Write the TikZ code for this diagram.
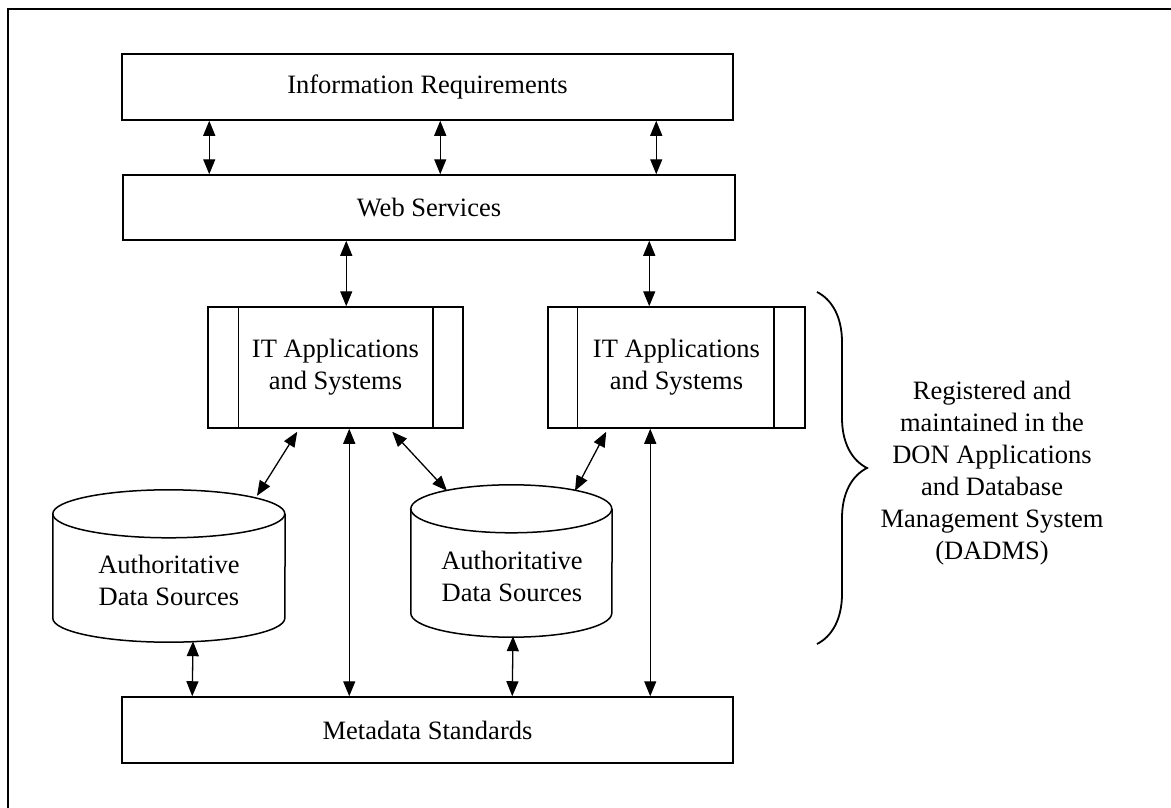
\documentclass[tikz,border=0pt]{standalone}
\usepackage{fontspec}
\setmainfont{Liberation Serif}
\usetikzlibrary{arrows.meta,decorations.pathreplacing,calc}
\begin{document}
\begin{tikzpicture}[x=1pt,y=1pt,
  box/.style={draw, line width=1.5pt, inner sep=0pt, font=\fontsize{26.5}{32}\selectfont, align=center},
  lbl/.style={inner sep=0pt, font=\fontsize{26.5}{32}\selectfont, align=center},
  body/.style={inner sep=0pt},
  link/.style={line width=1.3pt, {Triangle[length=15pt,width=12pt]}-{Triangle[length=15pt,width=12pt]}},
  frame/.style={line width=1.5pt},
  cyl/.style={line width=1.5pt},
]
\useasboundingbox (0,0) rectangle (1171,-808);
\draw[frame] (8,-808) -- (8,-9) -- (1171,-9);

% boxes
\node[box, minimum width=611, minimum height=66] (ir) at (427.5,-87) {Information Requirements};
\node[box, minimum width=612, minimum height=65] (ws) at (429,-207.5) {Web Services};
\node[box, minimum width=611, minimum height=66] (md) at (427.5,-730) {Metadata Standards};

\node[box, minimum width=255, minimum height=121] (it1) at (335.5,-367.5) {IT Applications\\and Systems};
\node[box, minimum width=257, minimum height=121] (it2) at (676.5,-367.5) {IT Applications\\and Systems};
\draw[line width=1.5pt] ($(it1.north west)+(31,0)$) -- ($(it1.south west)+(31,0)$);
\draw[line width=1.5pt] ($(it1.north east)+(-31,0)$) -- ($(it1.south east)+(-31,0)$);
\draw[line width=1.5pt] ($(it2.north west)+(30,0)$) -- ($(it2.south west)+(30,0)$);
\draw[line width=1.5pt] ($(it2.north east)+(-32,0)$) -- ($(it2.south east)+(-32,0)$);

% cylinders (body nodes span the outline)
\node[body, minimum width=232, minimum height=152] (cyl1) at (169,-566) {};
\node[body, minimum width=201, minimum height=152] (cyl2) at (511.5,-561) {};
\foreach \c/\rx in {cyl1/116, cyl2/100.5}{
  \draw[cyl] ($(\c.north west)+(0,-24)$) arc[start angle=180, delta angle=360, x radius=\rx pt, y radius=24pt];
  \draw[cyl] ($(\c.north west)+(0,-24)$) -- ($(\c.south west)+(0,24)$)
     arc[start angle=180, end angle=360, x radius=\rx pt, y radius=24pt] -- ($(\c.north east)+(0,-24)$);
}
\node[lbl] (ads1) at (169,-580) {Authoritative\\Data Sources};
\node[lbl] (ads2) at (512,-576) {Authoritative\\Data Sources};

% connectors
\draw[link] ($(ir.south west)+(88,0)$) -- ($(ws.north west)+(87,0)$);
\draw[link] ($(ir.south west)+(319,0)$) -- ($(ws.north west)+(318,0)$);
\draw[link] ($(ir.south west)+(535,0)$) -- ($(ws.north west)+(534,0)$);

\draw[link] ($(ws.south west)+(224,0)$) -- ($(it1.north west)+(139,0)$);
\draw[link] ($(ws.south west)+(527,0)$) -- ($(it2.north west)+(102,0)$);

\draw[link] ($(it1.south west)+(142,0)$) -- ($(md.north west)+(228,0)$);
\draw[link] ($(it2.south west)+(103,0)$) -- ($(md.north west)+(529,0)$);

\draw[link] ($(cyl1.south)+(24,1)$) -- ($(md.north west)+(71,0)$);
\draw[link] ($(cyl2.south)+(1.5,1)$) -- ($(md.north west)+(391,0)$);

\draw[link] ($(it1.south west)+(90,-3)$) -- ($(cyl1.north)+(88,-6)$);
\draw[link] ($(it1.south west)+(185,-3)$) -- ($(cyl2.north)+(-64.5,-6)$);
\draw[link] ($(it2.south west)+(59,-3)$) -- ($(cyl2.north)+(63.5,-6)$);

% brace and note
\draw[line width=1.8pt, decorate, decoration={brace, amplitude=50pt}] (817,-292) -- (817,-644);
\node[lbl] (note) at (992,-473) {Registered and\\maintained in the\\DON Applications\\and Database\\Management System\\(DADMS)};
\end{tikzpicture}
\end{document}
